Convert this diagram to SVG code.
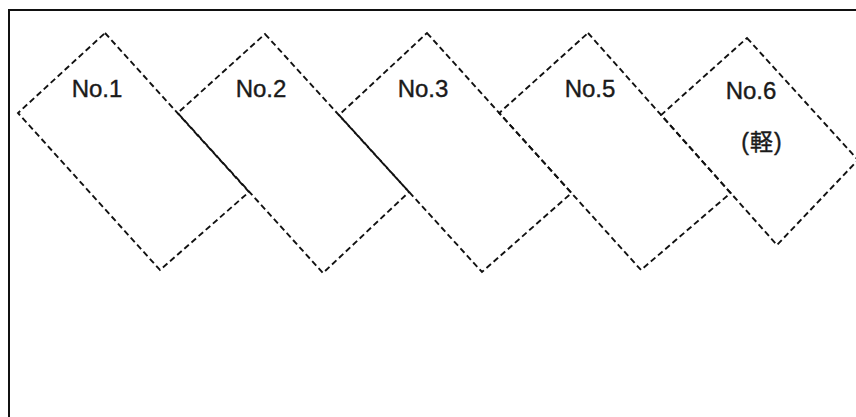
<svg xmlns="http://www.w3.org/2000/svg" width="856" height="417" viewBox="0 0 856 417">
<style>
.box{fill:none;stroke:#111;stroke-width:1.9;stroke-dasharray:6 3.5}
.lbl{font-family:"Liberation Sans",Arial,"Noto Sans CJK JP",sans-serif;font-size:24px;fill:#1a1a1a;text-anchor:middle;stroke:#1a1a1a;stroke-width:0.4}
.frame{fill:none;stroke:#111;stroke-width:2}
</style>
<rect x="0" y="0" width="856" height="417" fill="#fff"/>
<path class="frame" d="M9,417 V10 H856"/>
<g id="no1">
<polygon class="box" points="105,33 249,192 160,270 18,113"/>
<text class="lbl" x="97" y="97">No.1</text>
</g>
<g id="no2">
<polygon class="box" points="265,34 409,192 323,273 177.7,113"/>
<text class="lbl" x="261" y="97">No.2</text>
</g>
<g id="no3">
<polygon class="box" points="427,33 571.5,193 482,272 339,115"/>
<text class="lbl" x="423" y="97">No.3</text>
</g>
<g id="no5">
<polygon class="box" points="588,33 730.6,193 641,270 499.2,113"/>
<text class="lbl" x="590" y="97">No.5</text>
</g>
<g id="no6">
<polygon class="box" points="747,38 858,160 777,245 661.1,115"/>
<text class="lbl" x="751" y="99">No.6</text>
<text class="lbl" x="762" y="150" style="font-size:23px;letter-spacing:1px">(軽)</text>
</g>
<g id="connectors"/>
</svg>
